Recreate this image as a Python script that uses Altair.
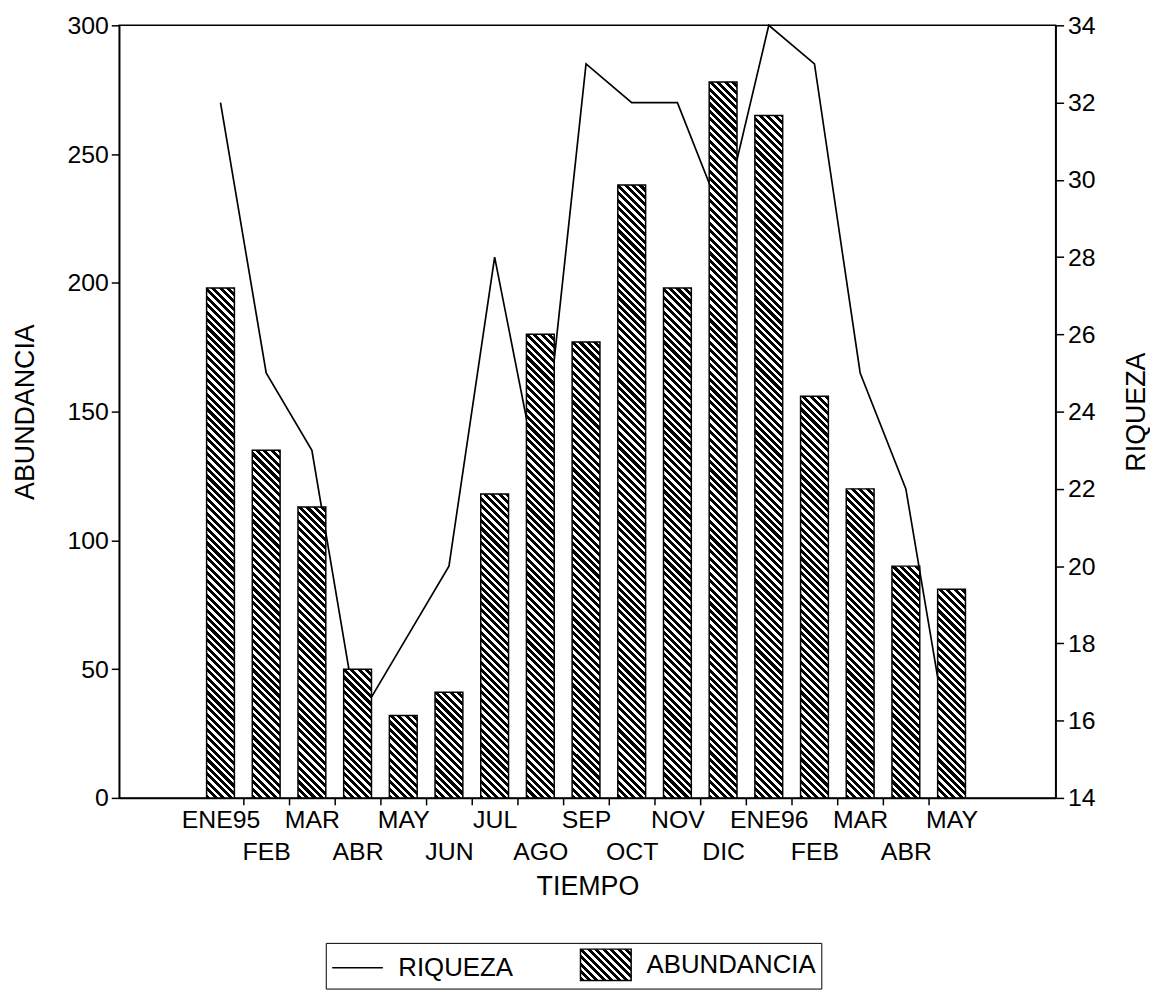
import json
import altair as alt
import pandas as pd

# ---------------- data ----------------
meses = ["ENE95", "FEB", "MAR", "ABR", "MAY", "JUN", "JUL", "AGO", "SEP",
         "OCT", "NOV", "DIC", "ENE96", "FEB", "MAR", "ABR", "MAY"]
abundancia = [198, 135, 113, 50, 32, 41, 118, 180, 177, 238, 198, 278,
              265, 156, 120, 90, 81]
riqueza = [32, 25, 23, 16, 18, 20, 28, 22, 33, 32, 32, 29, 34, 33, 25, 22, 15]
y_left_ticks = [0, 50, 100, 150, 200, 250, 300]
y_right_ticks = [14, 16, 18, 20, 22, 24, 26, 28, 30, 32, 34]
series_names = ["RIQUEZA", "ABUNDANCIA"]

# ---------------- layout / style ----------------
W, H = 943, 778
BAR_W = 28
PERIOD = 7.5
FRAC = 0.55
FONT = "Liberation Sans"
FS = 25
TFS = 27
LFS = 26

# legend symbol: 51 x 31.6 px box, drawn from a size-1000 symbol
LEG_SIZE = 1000
LEG_HALF = LEG_SIZE ** 0.5 / 2
LEG_XR = round(25.5 / LEG_HALF, 3)


def hatch(w, h):
    """Linear gradient giving '\\' diagonal black/white stripes on a w x h box."""
    L = w + h
    stops = []
    k = 0
    while k * PERIOD < L:
        a = k * PERIOD
        b = a + FRAC * PERIOD
        c = a + PERIOD
        for off, col in ((a, "black"), (b, "black"), (b, "white"), (c, "white")):
            stops.append({"offset": round(min(off / L, 1.0), 5), "color": col})
        k += 1
    kk = w * (w + h) / (w * w + h * h)
    y2 = 1 - h * (w + h) / (w * w + h * h)
    return {"gradient": "linear", "x1": 0, "y1": 1, "x2": round(kk, 5),
            "y2": round(y2, 5), "stops": stops}


df = pd.DataFrame({
    "idx": list(range(len(meses))),
    "mes": meses,
    "abundancia": abundancia,
    "riqueza": riqueza,
})

conds = [
    {"test": f"datum.idx === {i}", "value": hatch(BAR_W, v / 300 * H)}
    for i, v in enumerate(abundancia)
]

x_scale = alt.Scale(domain=[-2.108, 18.17], nice=False, zero=False)
L = json.dumps(meses)
label_expr = (f"datum.value % 1 !== 0 ? '' : (datum.value % 2 === 0 ? "
              f"{L}[datum.value] : ['', {L}[datum.value]])")
x_axis = alt.Axis(
    values=[i / 2 for i in range(2 * len(meses) - 1)],
    labelExpr=label_expr,
    tickOpacity={"condition": {"test": "datum.value % 1 === 0", "value": 0}, "value": 1},
    tickSize=7, labelPadding=3, labelLineHeight=32, labelAngle=0,
    labelOverlap=False, labelFlush=False, labelBound=False,
    title="TIEMPO", titlePadding=9, grid=False,
)
x_enc = alt.X("idx:Q", scale=x_scale, axis=x_axis)

legend_symbol = json.dumps(hatch(51, 31.6), separators=(",", ":"))
shape_line = f"M-{LEG_XR},0H{LEG_XR}"
shape_box = f"M-{LEG_XR},-1H{LEG_XR}V1H-{LEG_XR}Z"
legend = alt.Legend(
    orient="none", legendX=208, legendY=924, direction="horizontal",
    title=None, strokeColor="black", padding=5, columnPadding=64,
    symbolSize=LEG_SIZE, symbolStrokeWidth=1.5, symbolOffset=10, labelOffset=24,
    labelFont=FONT, labelFontSize=LFS, labelColor="black", labelLimit=400,
    symbolType={"expr": f"datum.value === 'RIQUEZA' ? '{shape_line}' : '{shape_box}'"},
    symbolFillColor={"expr": f"datum.value === 'ABUNDANCIA' ? {legend_symbol} : 'transparent'"},
    symbolStrokeColor="black", symbolOpacity=1,
)

line = alt.Chart(df).transform_calculate(serie="'RIQUEZA'").mark_line(
    strokeWidth=1.7
).encode(
    x=x_enc,
    y=alt.Y("riqueza:Q", scale=alt.Scale(domain=[14, 34], nice=False, zero=False),
            axis=alt.Axis(orient="right", values=y_right_ticks, tickSize=8, labelPadding=4,
                          title="RIQUEZA", titleAngle=270, titleBaseline="top",
                          titlePadding=29, grid=False)),
    stroke=alt.Stroke("serie:N", scale=alt.Scale(domain=series_names, range=["black", "black"]),
                      legend=legend),
)

bars = alt.Chart(df).mark_bar(width=BAR_W, stroke="black", strokeWidth=1.5).encode(
    x=x_enc,
    y=alt.Y("abundancia:Q", scale=alt.Scale(domain=[0, 300], nice=False),
            axis=alt.Axis(orient="left", values=y_left_ticks, tickSize=8, labelPadding=3,
                          title="ABUNDANCIA", titlePadding=28, grid=False)),
    fill=alt.FillValue(condition=conds, value="black"),
)

chart = alt.layer(line, bars).resolve_scale(y="independent").properties(
    width=W, height=H,
    autosize=alt.AutoSizeParams(type="none"),
    padding={"left": 112, "top": 14, "right": 95, "bottom": 190},
).configure_view(
    stroke="black", strokeWidth=1.5
).configure_axis(
    labelFont=FONT, titleFont=FONT, labelFontSize=FS, titleFontSize=TFS,
    titleFontWeight="normal", labelColor="black", titleColor="black",
    domainColor="black", tickColor="black", domainWidth=1.5, tickWidth=1.5,
)

chart.save("out.html", embed_options={"renderer": "svg", "actions": False})
